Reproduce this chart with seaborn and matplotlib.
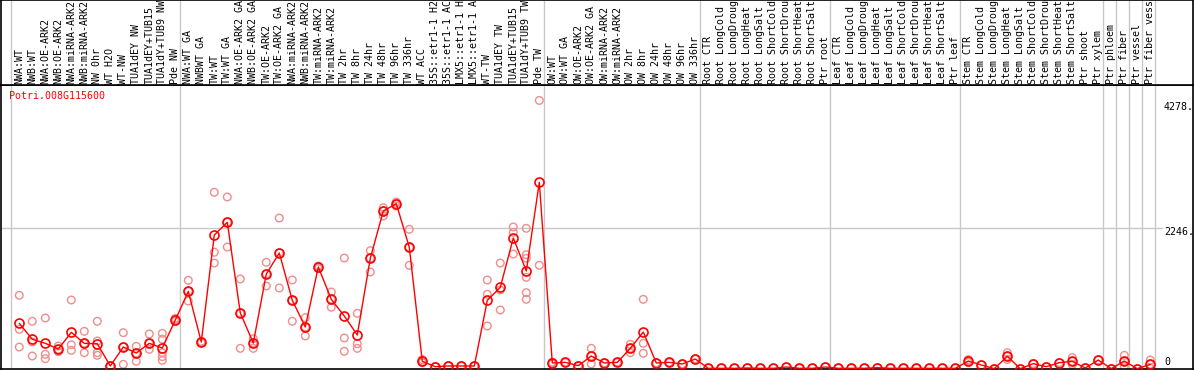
#!/usr/bin/env python3
"""Expression profile of Potri.008G115600 across poplar samples."""

import pandas as pd
import matplotlib
matplotlib.use("Agg")
import matplotlib.pyplot as plt
import matplotlib.transforms as mtransforms
import seaborn as sns

gene = "Potri.008G115600"

samples = [
    "NWA:WT", "NWB:WT", "NWA:OE-ARK2", "NWB:OE-ARK2", "NWA:miRNA-ARK2", "NWB:miRNA-ARK2",
    "NW 0hr", "WT H2O", "WT-NW", "TUA1dEY NW", "TUA1dEY+TUB15", "TUA1dY+TUB9 NW", "Pde NW",
    "NWA:WT GA", "NWBWT GA", "TW:WT", "TW:WT GA", "NWA:OE-ARK2 GA", "NWB:OE-ARK2 GA",
    "TW:OE-ARK2", "TW:OE-ARK2 GA", "NWA:miRNA-ARK2", "NWB:miRNA-ARK2", "TW:miRNA-ARK2",
    "TW:miRNA-ARK2", "TW 2hr", "TW 8hr", "TW 24hr", "TW 48hr", "TW 96hr", "TW 336hr",
    "WT ACC", "35S::etr1-1 H2O", "35S::etr1-1 ACC", "LMX5::etr1-1 H2O", "LMX5::etr1-1 ACC",
    "WT-TW", "TUA1dEY TW", "TUA1dEY+TUB15", "TUA1dY+TUB9 TW", "Pde TW",
    "OW:WT", "OW:WT GA", "OW:OE-ARK2", "OW:OE-ARK2 GA", "OW:miRNA-ARK2", "OW:miRNA-ARK2",
    "OW 2hr", "OW 8hr", "OW 24hr", "OW 48hr", "OW 96hr", "OW 336hr",
    "Root CTR", "Root LongCold", "Root LongDrought", "Root LongHeat", "Root LongSalt",
    "Root ShortCold", "Root ShortDrought", "Root ShortHeat", "Root ShortSalt", "Ptr root",
    "Leaf CTR", "Leaf LongCold", "Leaf LongDrought", "Leaf LongHeat", "Leaf LongSalt",
    "Leaf ShortCold", "Leaf ShortDrought", "Leaf ShortHeat", "Leaf ShortSalt", "Ptr leaf",
    "Stem CTR", "Stem LongCold", "Stem LongDrought", "Stem LongHeat", "Stem LongSalt",
    "Stem ShortCold", "Stem ShortDrought", "Stem ShortHeat", "Stem ShortSalt", "Ptr shoot",
    "Ptr xylem", "Ptr phloem", "Ptr fiber", "Ptr vessel", "Ptr fiber vessel",
]

# number of samples in each block separated by a grey line
group_sizes = [13, 28, 12, 10, 10, 11, 1, 1, 1, 1]

means = [
    728, 473, 409, 318, 584, 409, 403, 48, 350, 255, 409, 334, 780,
    1237, 430, 2135, 2337, 892, 414, 1513, 1848, 1094, 669, 1625, 1110, 844, 542,
    1763, 2517, 2633, 1938, 122, 37, 48, 48, 48, 1094, 1301, 2087, 1561, 2974,
    96, 106, 53, 207, 96, 106, 329, 589, 96, 106, 80, 159,
    11, 11, 11, 16, 11, 11, 32, 11, 11, 32,
    11, 11, 11, 21, 11, 11, 11, 11, 11, 11,
    127, 64, 5, 202, 5, 85, 37, 101, 122, 16, 143,
    5, 127, 5, 74,
]

replicates = [
    [1174, 632, 350], [760, 430, 207], [812, 234, 164], [366, 313, 276],
    [1099, 387, 297], [600, 409, 260], [760, 446, 260, 218], [48, 48, 48],
    [579, 350, 74], [361, 255, 122], [558, 409, 313], [568, 473, 260, 197, 138],
    [807, 780, 760],
    [1413, 1237, 1083], [440, 430, 420], [2815, 1859, 1688], [2740, 2337, 1943],
    [1434, 892, 329], [483, 414, 329], [1700, 1513, 1322], [2405, 1848, 1290],
    [1418, 1094, 760], [818, 669, 526], [1640, 1625, 1600], [1227, 1110, 983],
    [1768, 494, 282], [887, 403, 329], [1885, 1763, 1545], [2570, 2517, 2437],
    [2660, 2633, 2597], [2225, 1938, 1652], [150, 122, 100], [37, 37], [48, 48],
    [48, 48], [48, 48], [1418, 1190, 685], [1688, 1260, 940], [2262, 2177, 1832],
    [2241, 1821, 1763, 1460, 1216, 1110], [4278, 1652],
    [110, 96, 80], [106, 106], [53, 53], [329, 207, 80], [96, 96], [106, 106],
    [393, 329, 260], [1110, 409, 250], [96, 96], [106, 106], [80, 80], [159, 159],
    [11], [11], [11], [16], [11], [11], [32], [11], [11], [32],
    [11], [11], [11], [21], [11], [11], [11], [11], [11], [11],
    [150, 127, 105], [64], [5], [260, 202, 150], [5], [85], [37], [101],
    [181, 122, 70], [16], [143],
    [5], [218, 127, 40], [5], [143, 74, 10],
]

ytick_values = [0, 2246, 4278]
ytick_labels = ["0", "2246.", "4278."]

# long format tables for seaborn
pos = list(range(len(samples)))
mean_df = pd.DataFrame({"pos": pos, "value": means})
rep_rows = []
for i, reps in enumerate(replicates):
    for v in reps:
        rep_rows.append({"pos": i, "value": v})
rep_df = pd.DataFrame(rep_rows)

sns.set_style("white")
plt.rcParams["font.family"] = ["DejaVu Sans Mono"]
plt.rcParams["font.size"] = 7.2

W, H = 1194, 370
fig = plt.figure(figsize=(W / 100, H / 100), dpi=100)

# pixel geometry of the reference
left_px, right_px = 1, 1193
header_bottom_px = 85
plot_bottom_px = 369
x0_px, step_px = 19.3, 13.0

xmin = (left_px - x0_px) / step_px
xmax = (right_px - x0_px) / step_px

ax = fig.add_axes([left_px / W, (H - plot_bottom_px) / H,
                   (right_px - left_px) / W, (plot_bottom_px - header_bottom_px) / H])
hax = fig.add_axes([left_px / W, (H - header_bottom_px) / H,
                    (right_px - left_px) / W, header_bottom_px / H])

grid_col = "#c8c8c8"

# group separators
bounds = [0]
for g in group_sizes:
    bounds.append(bounds[-1] + g)
for b in bounds:
    xb = b - 0.62
    ax.axvline(xb, color=grid_col, lw=1.0, zorder=0)
    hax.axvline(xb, color=grid_col, lw=1.0, zorder=0)

ymax = (plot_bottom_px - header_bottom_px) * 2246 / (plot_bottom_px - 228)
ax.axhline(2246, xmin=0, xmax=(1162 - left_px) / (right_px - left_px),
           color=grid_col, lw=1.0, zorder=0)

sns.scatterplot(data=rep_df, x="pos", y="value", ax=ax, s=30, marker="o",
                color="#f08c8c", linewidth=1.0, zorder=2, legend=False)
ax.collections[-1].set_facecolor("none")
ax.collections[-1].set_edgecolor("#f08c8c")

sns.lineplot(data=mean_df, x="pos", y="value", ax=ax, color="red", lw=1.0,
             marker="o", markersize=6.5, markerfacecolor="none",
             markeredgecolor="red", markeredgewidth=1.2, zorder=3)

ax.set_xlim(xmin, xmax)
ax.set_ylim(0, ymax)
ax.set_xticks([])
ax.set_yticks([])
ax.set_xlabel("")
ax.set_ylabel("")
for s in ax.spines.values():
    s.set_color("black")
    s.set_linewidth(1.2)

# value labels on the right
trans = mtransforms.blended_transform_factory(ax.transAxes, ax.transData)
xlab = (1164 - left_px) / (right_px - left_px)
offsets = [5, -3, -5]
for v, lab, dy in zip(ytick_values, ytick_labels, offsets):
    ax.annotate(lab, xy=(xlab, v), xycoords=trans, xytext=(0, dy),
                textcoords="offset points", ha="left", va="center",
                fontsize=7.2, color="black")

ax.text((9.3 - left_px) / (right_px - left_px), 0.978, gene, transform=ax.transAxes,
        ha="left", va="top", color="red", fontsize=7.2)

# sample names in the header strip
hax.set_xlim(xmin, xmax)
hax.set_ylim(0, header_bottom_px)
for i, name in enumerate(samples):
    hax.text(i, 1.5, name, rotation=90, ha="center", va="bottom",
             fontsize=7.2, color="black", clip_on=True)
hax.set_xticks([])
hax.set_yticks([])
for s in hax.spines.values():
    s.set_color("black")
    s.set_linewidth(1.2)

fig.savefig("out.png", dpi=100)
